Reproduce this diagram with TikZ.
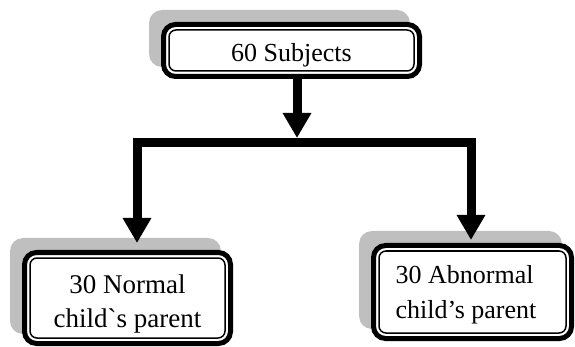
\documentclass[tikz,border=0pt]{standalone}
\usepackage{fontspec}
\setmainfont{Liberation Serif}[Ligatures=TeXOff]
\usetikzlibrary{arrows.meta,backgrounds}
\begin{document}
\begin{tikzpicture}[x=1pt,y=-1pt,
  fbox/.style={draw=black, line width=5pt, fill=white, rounded corners=12pt, inner sep=0pt},
  innerline/.style={draw=black, line width=1.5pt, rounded corners=7pt},
  shade/.style={fill=black!25, rounded corners=13pt},
  conn/.style={draw=black, line width=9pt, line join=miter},
  >={Triangle[width=27pt,length=25pt]}]
\useasboundingbox (0,0) rectangle (575,347);

\node[fbox, minimum width=256pt, minimum height=52pt, text height=26pt, text depth=3pt,
      font=\fontsize{26}{34}\selectfont] (top) at (291.5,50.5) {60 Subjects};
\node[fbox, minimum width=206pt, minimum height=91pt, text height=20pt, text depth=30pt,
      font=\fontsize{27}{34}\selectfont] (lbox) at (127.5,298)
      {\begin{tabular}[t]{@{}c@{}}30 Normal\\child`s parent\end{tabular}};
\node[fbox, minimum width=198pt, minimum height=93pt, text height=10pt, text depth=28pt,
      font=\fontsize{26}{35}\selectfont] (rbox) at (472.5,292)
      {\begin{tabular}[t]{@{}l@{\hspace{13pt}}}30 Abnormal\\child’s parent\end{tabular}};

\foreach \n in {top,lbox,rbox}
  \draw[innerline] ([shift={(8pt,-8pt)}]\n.north west) rectangle ([shift={(-8pt,8pt)}]\n.south east);

\begin{scope}[on background layer]
\foreach \n in {top,lbox,rbox}
  \fill[shade] ([shift={(-12pt,12pt)}]\n.north west) rectangle ([shift={(-12pt,12pt)}]\n.south east);
\end{scope}

\coordinate (jt) at (297,138);
\coordinate (jl) at (137,143);
\coordinate (jr) at (471,143);
\coordinate (lt) at (137,243);
\coordinate (rt) at (471,240);

\draw[conn,->] (top.south -| jt) -- (jt);
\draw[conn,<->] (lt) -- (jl) -- (jr) -- (rt);
\end{tikzpicture}
\end{document}
